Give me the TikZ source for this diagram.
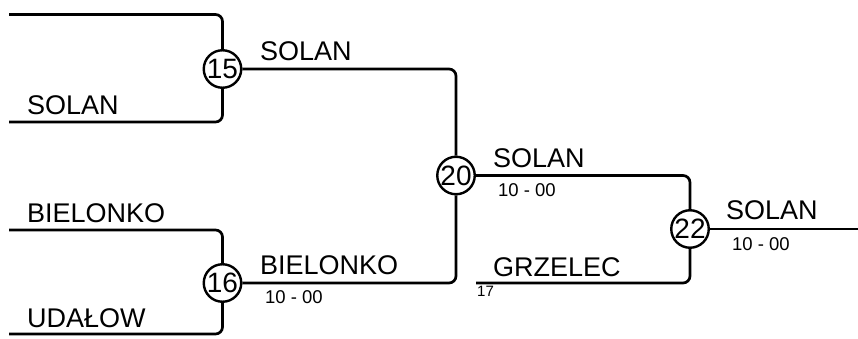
\documentclass[tikz,border=0pt]{standalone}
\usepackage{fontspec}
\setmainfont{Liberation Sans}

\begin{document}
\begin{tikzpicture}[
    x=1pt, y=1pt,
    match/.style={draw, circle, line width=2.4pt, minimum size=37.5pt, inner sep=0pt, font=\fontsize{28}{30}\selectfont},
    link/.style={line width=2.7pt, rounded corners=7pt},
    team/.style={anchor=base west, inner sep=0pt, font=\fontsize{27}{30}\selectfont},
    score/.style={anchor=base west, inner sep=0pt, font=\fontsize{18.5}{20}\selectfont},
    seed/.style={anchor=base west, inner sep=0pt, font=\fontsize{15}{16}\selectfont}
]
    \useasboundingbox (0,0) rectangle (858,338);

    % matches
    \node[match] (m15) at (222.5,269) {15};
    \node[match] (m16) at (222.5,55) {16};
    \node[match] (m20) at (456,162.5) {20};
    \node[match] (m22) at (690,109) {22};

    % entry points
    \coordinate (e15a) at (9,323.5);
    \coordinate (e15b) at (9,216);
    \coordinate (e16a) at (9,108);
    \coordinate (e16b) at (9,4);
    \coordinate (e22b) at (476,55);
    \coordinate (final) at (858,109);

    % bracket lines
    \draw[link] (e15a) -| (m15);
    \draw[link] (e15b) -| (m15);
    \draw[link] (e16a) -| (m16);
    \draw[link] (e16b) -| (m16);
    \draw[link] (m15) -| (m20);
    \draw[link] (m16) -| (m20);
    \draw[link] (m20) -| (m22);
    \draw[link] (e22b) -| (m22);
    \draw[link] (m22) -- (final);

    % team names
    \node[team] (t15b) at (27,224) {SOLAN};
    \node[team] (t16a) at (27,116) {BIELONKO};
    \node[team] (t16b) at (27,11) {UDAŁOW};
    \node[team] (w15) at (260,277) {SOLAN};
    \node[team] (w16) at (260,63.5) {BIELONKO};
    \node[team] (w20) at (493,171) {SOLAN};
    \node[team] (t22b) at (493,62) {GRZELEC};
    \node[team] (w22) at (726,119) {SOLAN};

    % scores
    \node[score] (s16) at (265,35) {10 - 00};
    \node[score] (s20) at (498,142) {10 - 00};
    \node[score] (s22) at (732,88) {10 - 00};
    \node[seed] (n17) at (477,41.3) {17};
\end{tikzpicture}
\end{document}
